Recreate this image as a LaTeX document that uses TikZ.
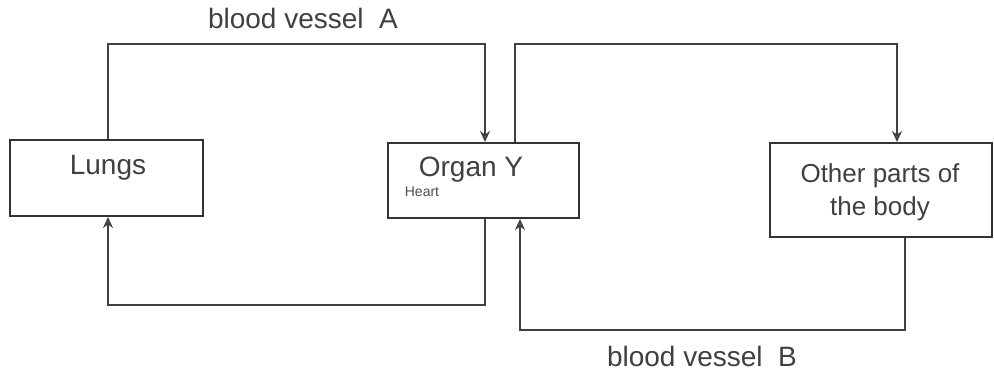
\documentclass[tikz,border=0pt]{standalone}
\usepackage{fontspec}
\setmainfont{Liberation Sans}
\usetikzlibrary{arrows.meta}
\begin{document}
\begin{tikzpicture}[x=1pt,y=-1pt,
  box/.style={draw=black!80, line width=2pt, inner sep=0pt},
  link/.style={draw=black!75, line width=1.6pt, -{Stealth[length=11pt,width=10pt,fill=black!45]}},
  lab/.style={font=\fontsize{28}{32}\selectfont, text=black!75}]
\useasboundingbox (0,0) rectangle (994,380);
\node[box, minimum width=193pt, minimum height=76pt] (lungs) at (106.5,178) {};
\node[lab] (tlungs) at (108,168) {Lungs};
\node[box, minimum width=191pt, minimum height=75pt] (organ) at (483.5,180.5) {};
\node[lab] (torgan) at (471,170) {Organ Y};
\node[font=\fontsize{14}{16}\selectfont, text=black!70] (note) at (422,192) {Heart};
\node[box, minimum width=222pt, minimum height=94pt] (other) at (881,190) {};
\node[lab, font=\fontsize{26}{33}\selectfont, align=center] (tother) at (880,192) {Other parts of\\the body};
\coordinate (a1) at (108,44);
\coordinate (a2) at (485,44);
\coordinate (b1) at (515,44);
\coordinate (b2) at (897,44);
\coordinate (c1) at (485,305);
\coordinate (c2) at (108,305);
\coordinate (d1) at (905,330);
\coordinate (d2) at (520,330);
\draw[link] (lungs.north -| a1) -- (a1) -- (a2) -- (organ.north -| a2);
\draw[link] (organ.north -| b1) -- (b1) -- (b2) -- (other.north -| b2);
\draw[link] (organ.south -| c1) -- (c1) -- (c2) -- (lungs.south -| c2);
\draw[link] (other.south -| d1) -- (d1) -- (d2) -- (organ.south -| d2);
\node[lab] (la) at (303,18) {blood vessel\ \ A};
\node[lab] (lb) at (702,356) {blood vessel\ \ B};
\end{tikzpicture}
\end{document}
